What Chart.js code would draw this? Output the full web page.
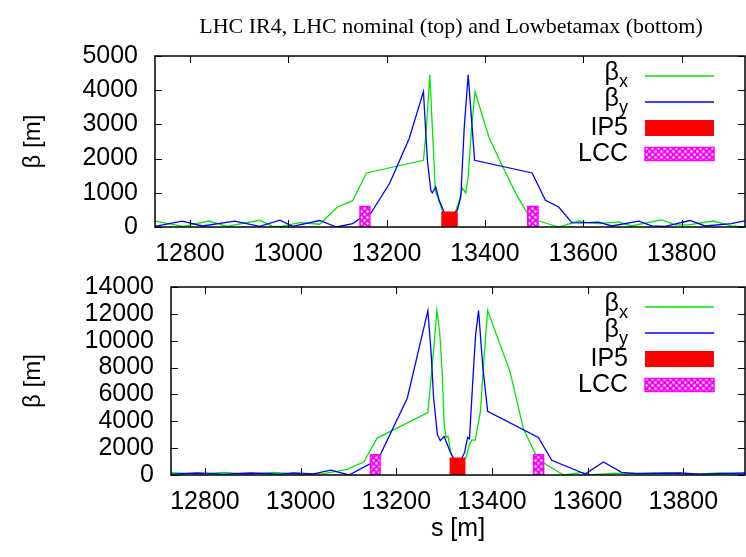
<!DOCTYPE html>
<html>
<head>
<meta charset="utf-8">
<script src="https://cdn.jsdelivr.net/npm/chart.js@4.4.1/dist/chart.umd.min.js"></script>
<style>
  html, body { margin: 0; padding: 0; background: #fff; }
  #wrap { position: relative; width: 746px; height: 557px; overflow: hidden; }
  #topChart { position: absolute; left: 0; top: 0; }
  #botChart { position: absolute; left: 0; top: 255px; }
  #title {
    position: absolute; top: 15px; left: 451px; transform: translateX(-50%);
    font: 22px "Liberation Serif", serif; line-height: 1; white-space: nowrap; color: #000;
  }
</style>
</head>
<body>
<div id="wrap">
  <canvas id="topChart" width="746" height="270"></canvas>
  <canvas id="botChart" width="746" height="302"></canvas>
  <div id="title">LHC IR4, LHC nominal (top) and Lowbetamax (bottom)</div>
</div>
<script>
// axis ticks
const sTicks = [12800, 13000, 13200, 13400, 13600, 13800];
const sMin = 12729, sMax = 13929;

// top panel: LHC nominal
const topSx = [12729, 12786, 12839, 12875, 12942, 12968, 12987, 13023, 13064, 13100, 13131, 13159, 13275, 13281, 13288, 13293, 13297, 13299, 13304, 13314, 13327, 13340, 13348, 13354, 13361, 13366, 13373, 13380, 13408, 13435, 13463, 13486, 13510, 13550, 13591, 13611, 13631, 13672, 13698, 13759, 13788, 13814, 13865, 13901, 13929];
const topBetaX = [170, 20, 175, 20, 196, 20, 20, 130, 80, 585, 770, 1580, 1950, 2900, 4450, 2924, 1754, 1073, 880, 440, 250, 440, 780, 1140, 995, 1462, 2924, 3950, 2632, 1800, 975, 410, 175, 0, 175, 120, 100, 150, 30, 210, 60, 60, 175, 30, 0];
const topSy = [12729, 12784, 12826, 12891, 12942, 12983, 13009, 13064, 13098, 13131, 13146, 13168, 13206, 13246, 13275, 13283, 13290, 13293, 13300, 13307, 13317, 13327, 13344, 13351, 13358, 13366, 13372, 13379, 13496, 13510, 13523, 13550, 13577, 13597, 13631, 13658, 13713, 13739, 13767, 13817, 13848, 13901, 13929];
const topBetaY = [20, 170, 30, 170, 20, 200, 20, 190, 0, 100, 250, 400, 1270, 2590, 3960, 1950, 1073, 995, 1170, 780, 440, 250, 490, 877, 2924, 4450, 3300, 1950, 1580, 1170, 780, 585, 130, 120, 140, 30, 170, 30, 20, 190, 30, 100, 180];

// bottom panel: Lowbetamax
const botSx = [12730, 12784, 12839, 12891, 12944, 12996, 13048, 13097, 13132, 13160, 13266, 13276, 13285, 13291, 13296, 13300, 13304, 13308, 13314, 13328, 13346, 13353, 13358, 13365, 13376, 13384, 13391, 13438, 13466, 13494, 13515, 13550, 13588, 13605, 13660, 13765, 13820, 13877, 13929];
const botBetaX = [170, 60, 190, 60, 190, 60, 100, 415, 970, 2750, 4650, 8500, 12240, 10500, 7660, 3800, 2800, 2900, 1700, 600, 1300, 2300, 2600, 2600, 4750, 9000, 12240, 7660, 3400, 1340, 730, 0, 200, 30, 120, 150, 60, 150, 60];
const botSy = [12730, 12784, 12839, 12896, 12958, 12985, 13027, 13063, 13101, 13146, 13166, 13223, 13266, 13273, 13278, 13286, 13292, 13300, 13313, 13328, 13343, 13349, 13353, 13361, 13366, 13372, 13381, 13391, 13497, 13525, 13595, 13633, 13671, 13703, 13793, 13835, 13929];
const botBetaY = [60, 150, 60, 150, 60, 150, 80, 365, 0, 850, 1460, 5715, 12240, 9000, 5715, 3000, 2555, 2870, 1700, 600, 1700, 2800, 2700, 7660, 10500, 12240, 8000, 4745, 2800, 1095, 70, 970, 200, 100, 150, 60, 150];

// element boxes: [from, to] in s, heights in beta
const ip5 = [13311, 13345];
const lcc = [[13146, 13166], [13487, 13508]];
const topBoxHeight = { ip5: 450, lcc: 600 };
const botBoxHeight = { ip5: 1300, lcc: 1500 };

const green = '#00e600';
const blue = '#0000ff';
const red = '#ff0000';
const magenta = '#ff00ff';
const font = '"Liberation Sans", Arial, sans-serif';

function hatch() {
    const c = document.createElement('canvas');
    c.width = 6; c.height = 6;
    const g = c.getContext('2d');
    g.fillStyle = magenta;
    g.fillRect(0, 0, 6, 6);
    g.fillStyle = '#fff';
    g.beginPath(); g.arc(1.5, 1.5, 1.2, 0, Math.PI * 2); g.fill();
    g.beginPath(); g.arc(4.5, 4.5, 1.2, 0, Math.PI * 2); g.fill();
    return g.createPattern(c, 'repeat');
}
const lccFill = hatch();

const pts = (xs, ys) => xs.map((x, i) => ({ x: x, y: ys[i] }));
const box = (r, h) => [{ x: r[0], y: 0 }, { x: r[0], y: h }, { x: r[1], y: h }, { x: r[1], y: 0 }];

function datasets(sx, bx, sy, by, h) {
    const ds = [
        { data: pts(sx, bx), borderColor: green, borderWidth: 1.3, order: 2 },
        { data: pts(sy, by), borderColor: blue, borderWidth: 1.3, order: 1 },
        { data: box(ip5, h.ip5), borderColor: red, borderWidth: 0, backgroundColor: red, fill: 'origin', order: 0 }
    ];
    lcc.forEach(r => ds.push({ data: box(r, h.lcc), borderColor: magenta, borderWidth: 1.5, backgroundColor: lccFill, fill: 'origin', order: 0 }));
    ds.forEach(d => { d.pointRadius = 0; d.tension = 0; });
    return ds;
}

// gnuplot-like frame with inward ticks
const framePlugin = {
    id: 'frame',
    afterDatasetsDraw(chart) {
        const { ctx, chartArea: a, scales: { x, y } } = chart;
        ctx.save();
        ctx.strokeStyle = '#000';
        ctx.lineWidth = 1;
        ctx.beginPath();
        x.ticks.forEach(t => {
            const px = Math.round(x.getPixelForValue(t.value)) + 0.5;
            ctx.moveTo(px, a.bottom); ctx.lineTo(px, a.bottom - 7);
            ctx.moveTo(px, a.top); ctx.lineTo(px, a.top + 7);
        });
        y.ticks.forEach(t => {
            const py = Math.round(y.getPixelForValue(t.value)) + 0.5;
            ctx.moveTo(a.left, py); ctx.lineTo(a.left + 7, py);
            ctx.moveTo(a.right, py); ctx.lineTo(a.right - 7, py);
        });
        ctx.stroke();
        ctx.lineWidth = 1.5;
        ctx.strokeRect(a.left, a.top, a.right - a.left, a.bottom - a.top);
        ctx.restore();
    }
};

// legend with subscripts, gnuplot style
const legendPlugin = {
    id: 'gpLegend',
    afterDraw(chart) {
        const { ctx, chartArea: a } = chart;
        const rows = chart.options.plugins.gpLegend.rows;
        ctx.save();
        rows.forEach((r, i) => {
            const cy = a.top + 20 + i * 26;
            const right = a.right - 117;
            ctx.textBaseline = 'middle';
            ctx.textAlign = 'left';
            ctx.fillStyle = '#000';
            ctx.font = '25px ' + font;
            const w1 = ctx.measureText(r.text).width;
            let w2 = 0;
            if (r.sub) { ctx.font = '18px ' + font; w2 = ctx.measureText(r.sub).width; }
            const x0 = right - w1 - w2;
            ctx.font = '25px ' + font;
            ctx.fillText(r.text, x0, r.sub ? cy - 3 : cy);
            if (r.sub) { ctx.font = '18px ' + font; ctx.fillText(r.sub, x0 + w1, cy + 6); }

            const ds = chart.data.datasets[r.ds];
            const sx0 = a.right - 100, sx1 = a.right - 31;
            if (r.h) {
                ctx.fillStyle = ds.backgroundColor;
                ctx.fillRect(sx0, cy - r.h / 2, sx1 - sx0, r.h);
                if (ds.borderWidth) {
                    ctx.strokeStyle = ds.borderColor;
                    ctx.lineWidth = 1.5;
                    ctx.strokeRect(sx0, cy - r.h / 2, sx1 - sx0, r.h);
                }
            } else {
                ctx.strokeStyle = ds.borderColor;
                ctx.lineWidth = ds.borderWidth;
                ctx.beginPath();
                ctx.moveTo(sx0, cy); ctx.lineTo(sx1, cy);
                ctx.stroke();
            }
        });
        ctx.restore();
    }
};

const legendRows = [
    { text: 'β', sub: 'x', ds: 0 },
    { text: 'β', sub: 'y', ds: 1 },
    { text: 'IP5', ds: 2, h: 16 },
    { text: 'LCC', ds: 3, h: 13 }
];

function makeChart(id, data, yMax, yStep, opts) {
    return new Chart(document.getElementById(id), {
        type: 'line',
        data: { datasets: data },
        options: {
            responsive: false,
            animation: false,
            layout: { padding: { top: opts.padTop, right: 1, left: 0, bottom: 0 } },
            scales: {
                x: {
                    type: 'linear', min: sMin, max: sMax,
                    grid: { display: false, drawTicks: false },
                    border: { display: false },
                    afterBuildTicks: s => { s.ticks = sTicks.map(v => ({ value: v })); },
                    afterFit: s => { s.height = opts.xHeight; },
                    ticks: { autoSkip: false, maxRotation: 0, padding: 12, color: '#000', font: { family: font, size: 25 }, callback: v => String(v) },
                    title: { display: opts.xTitle, text: 's [m]', color: '#000', font: { family: font, size: 25 }, padding: { top: 0, bottom: 13 } }
                },
                y: {
                    min: 0, max: yMax,
                    grid: { display: false, drawTicks: false },
                    border: { display: false },
                    afterFit: s => { s.width = opts.yWidth; },
                    ticks: { stepSize: yStep, autoSkip: false, padding: 17, color: '#000', font: { family: font, size: 25 }, callback: v => String(v) },
                    title: { display: true, text: 'β [m]', color: '#000', font: { family: font, size: 24 }, padding: { top: 19, bottom: 0 } }
                }
            },
            plugins: {
                legend: { display: false },
                tooltip: { enabled: false },
                gpLegend: { rows: legendRows }
            }
        },
        plugins: [framePlugin, legendPlugin]
    });
}

makeChart('topChart', datasets(topSx, topBetaX, topSy, topBetaY, topBoxHeight), 5000, 1000,
    { padTop: 56, xHeight: 270 - 227, yWidth: 155, xTitle: false });
makeChart('botChart', datasets(botSx, botBetaX, botSy, botBetaY, botBoxHeight), 14000, 2000,
    { padTop: 28, xHeight: 302 - 220, yWidth: 171, xTitle: true });
</script>
</body>
</html>
